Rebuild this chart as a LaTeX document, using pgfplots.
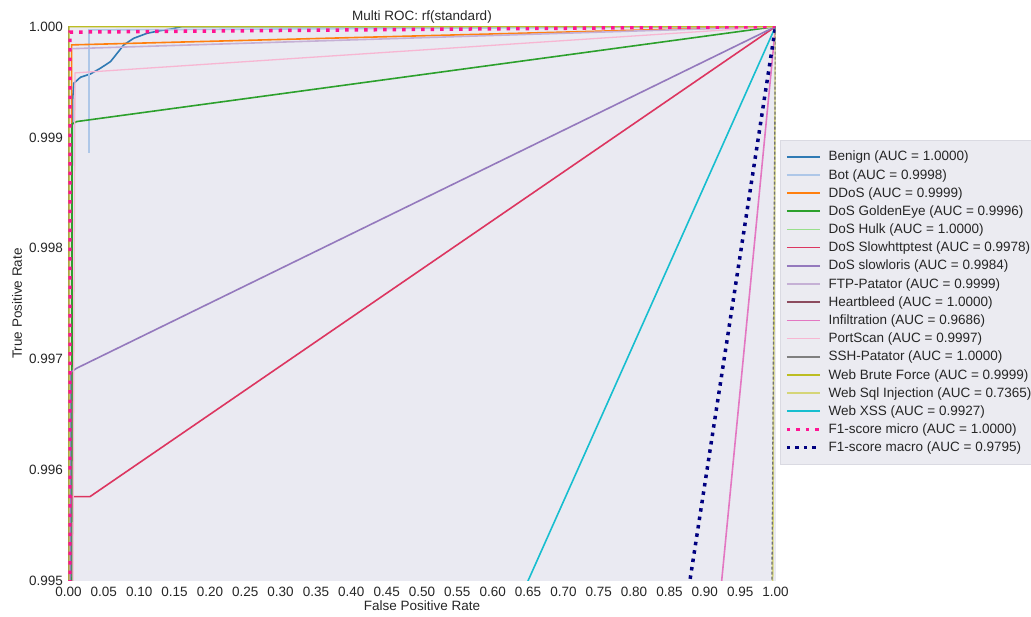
\documentclass[border=0pt]{standalone}
\usepackage{pgfplots}
\pgfplotsset{compat=1.18}
\usepackage{fontspec}
\setmainfont{Liberation Sans}
\definecolor{bgcol}{HTML}{EAEAF2}
\definecolor{labcol}{HTML}{262626}
\definecolor{legbg}{HTML}{EBEBF1}
\definecolor{legdraw}{HTML}{DADAE2}
\definecolor{cBenign}{HTML}{2F7AB4}
\definecolor{cBot}{HTML}{AEC7E8}
\definecolor{cDDoS}{HTML}{FF7F0E}
\definecolor{cGolden}{HTML}{2CA02C}
\definecolor{cHulk}{HTML}{98DF8A}
\definecolor{cSlowhttp}{HTML}{DC3560}
\definecolor{cSlowloris}{HTML}{9479BD}
\definecolor{cFTP}{HTML}{C5B0D5}
\definecolor{cHeart}{HTML}{8C4B5E}
\definecolor{cInfil}{HTML}{E377C2}
\definecolor{cPort}{HTML}{F7B6D2}
\definecolor{cSSH}{HTML}{7F7F7F}
\definecolor{cWebBF}{HTML}{BCBD22}
\definecolor{cWebSQL}{HTML}{DBDB8D}
\definecolor{cXSS}{HTML}{17BECF}
\definecolor{cMicro}{HTML}{FF1493}
\definecolor{cMacro}{HTML}{000080}
\begin{document}
\begin{tikzpicture}[x=1pt,y=1pt]
\begin{axis}[
  at={(68.5pt,36.3pt)}, anchor=south west,
  scale only axis, width=707pt, height=554pt,
  xmin=0, xmax=1, ymin=0.995, ymax=1.0,
  axis background/.style={fill=bgcol},
  axis line style={draw=none},
  major tick length=0pt,
  xtick={0,0.05,0.1,0.15,0.2,0.25,0.3,0.35,0.4,0.45,0.5,0.55,0.6,0.65,0.7,0.75,0.8,0.85,0.9,0.95,1},
  xticklabels={0.00,0.05,0.10,0.15,0.20,0.25,0.30,0.35,0.40,0.45,0.50,0.55,0.60,0.65,0.70,0.75,0.80,0.85,0.90,0.95,1.00},
  ytick={0.995,0.996,0.997,0.998,0.999,1.0},
  yticklabels={0.995,0.996,0.997,0.998,0.999,1.000},
  tick label style={font=\fontsize{13.5}{16}\selectfont, text=labcol},
  xticklabel style={anchor=base, yshift=-16pt},
  yticklabel style={anchor=east, xshift=-2pt},
  title={Multi ROC: rf(standard)},
  title style={font=\fontsize{13.5}{16}\selectfont, text=labcol, at={(axis description cs:0.5,1)}, anchor=base},
  xlabel={False Positive Rate},
  xlabel style={font=\fontsize{13.5}{16}\selectfont, text=labcol, at={(axis description cs:0.5,-0.0547)}, anchor=base},
  ylabel={True Positive Rate},
  ylabel style={font=\fontsize{13.5}{16}\selectfont, text=labcol, at={(axis description cs:-0.0658,0.5)}, anchor=base},
  legend style={at={(1.0064,0.7955)}, anchor=north west, fill=legbg, draw=legdraw,
    font=\fontsize{13.5}{16}\selectfont, text=labcol, row sep=2.9pt,
    inner xsep=5pt, inner ysep=9pt},
  legend cell align=left,
  legend image code/.code={\draw[#1] (0pt,0pt) -- (33pt,0pt); \path (38pt,0pt);},
  every axis plot/.append style={line width=1.6pt},
]
% Benign
\addplot[cBenign] coordinates {(0.0040,0.99) (0.0050,0.9985) (0.0058,0.999338) (0.0075,0.999489) (0.0170,0.999543) (0.0311,0.999573) (0.0453,0.999625) (0.0594,0.999684) (0.0689,0.999760) (0.0782,0.999835) (0.0924,0.999895) (0.1113,0.999940) (0.1301,0.999964) (0.1443,0.999977) (0.1600,1.0) (1,1)};
\addlegendentry{Benign (AUC = 1.0000)}
% Bot
\addplot[cBot] coordinates {(0.0290,0.99886) (0.0290,0.99997) (1,1)};
\addlegendentry{Bot (AUC = 0.9998)}
% DDoS
\addplot[cDDoS] coordinates {(0.0045,0.99) (0.0045,0.999835) (1,1)};
\addlegendentry{DDoS (AUC = 0.9999)}
% DoS GoldenEye
\addplot[cGolden] coordinates {(0.0045,0.99) (0.0050,0.99912) (0.0116,0.999143) (1,1)};
\addlegendentry{DoS GoldenEye (AUC = 0.9996)}
% DoS Hulk
\addplot[cHulk] coordinates {(0,0.99) (0,1) (1,1)};
\addlegendentry{DoS Hulk (AUC = 1.0000)}
% DoS Slowhttptest
\addplot[cSlowhttp] coordinates {(0.0011,0.99) (0.0011,0.995533) (0.0045,0.995758) (0.0304,0.995758) (1,1)};
\addlegendentry{DoS Slowhttptest (AUC = 0.9978)}
% DoS slowloris
\addplot[cSlowloris] coordinates {(0.0021,0.99) (0.0030,0.99688) (0.0116,0.996917) (1,1)};
\addlegendentry{DoS slowloris (AUC = 0.9984)}
% FTP-Patator
\addplot[cFTP] coordinates {(0,0.99) (0.001,0.99980) (1,1)};
\addlegendentry{FTP-Patator (AUC = 0.9999)}
% Heartbleed
\addplot[cHeart] coordinates {(0,0.99) (0,1) (1,1)};
\addlegendentry{Heartbleed (AUC = 1.0000)}
% Infiltration
\addplot[cInfil] coordinates {(0,0.9343) (1,1)};
\addlegendentry{Infiltration (AUC = 0.9686)}
% PortScan
\addplot[cPort, line width=1.3pt] coordinates {(0.0030,0.99) (0.0092,0.999582) (1,1)};
\addlegendentry{PortScan (AUC = 0.9997)}
% SSH-Patator
\addplot[cSSH] coordinates {(0,0.99) (0,1) (1,1)};
\addlegendentry{SSH-Patator (AUC = 1.0000)}
% Web Brute Force
\addplot[cWebBF] coordinates {(0,0.99) (0.0005,1) (1,1)};
\addlegendentry{Web Brute Force (AUC = 0.9999)}
% Web Sql Injection
\addplot[cWebSQL!80!cWebBF] coordinates {(0.9920,0.990) (1,1)};
\addlegendentry{Web Sql Injection (AUC = 0.7365)}
% Web XSS
\addplot[cXSS] coordinates {(0,0.98571) (1,1)};
\addlegendentry{Web XSS (AUC = 0.9927)}
% micro
\addplot[cMicro, line width=3.5pt, dash pattern=on 3.5pt off 6pt] coordinates {(0.0021,0.99) (0.0021,0.99995) (1,1)};
\addlegendentry{F1-score micro (AUC = 1.0000)}
% macro
\addplot[cMacro, line width=3.5pt, dash pattern=on 3.5pt off 5pt] coordinates {(0,0.9587) (1,1)};
\addlegendentry{F1-score macro (AUC = 0.9795)}
% chance line
\addplot[black!55, line width=1.3pt, dash pattern=on 3pt off 2pt, forget plot] coordinates {(0.99,0.99) (1,1)};
\end{axis}
\pgfresetboundingbox
\path[use as bounding box] (0,0) rectangle (1031,617);
\end{tikzpicture}
\end{document}
